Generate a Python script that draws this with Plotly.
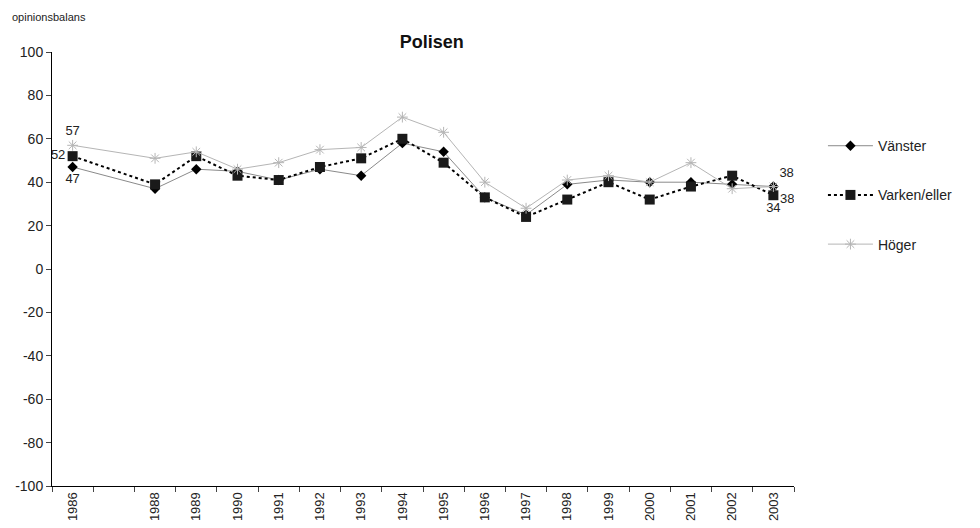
import plotly.graph_objects as go

# 1987 is an empty slot on the axis, no survey that year
years = ["1986", "1987", "1988", "1989", "1990", "1991", "1992", "1993", "1994",
         "1995", "1996", "1997", "1998", "1999", "2000", "2001", "2002", "2003"]
tick_labels = [y if y != "1987" else "" for y in years]

y_ticks = [100, 80, 60, 40, 20, 0, -20, -40, -60, -80, -100]
y_tick_labels = [str(v) for v in y_ticks]  # plain hyphen, like the original

vanster = [47, None, 37, 46, 45, 41, 46, 43, 58, 54, 33, 25, 39, 41, 40, 40, 39, 38]
varken = [52, None, 39, 52, 43, 41, 47, 51, 60, 49, 33, 24, 32, 40, 32, 38, 43, 34]
hoger = [57, None, 51, 54, 46, 49, 55, 56, 70, 63, 40, 28, 41, 43, 40, 49, 37, 38]


def end_labels(values):
    labels = ["" for _ in values]
    labels[0] = str(values[0])
    labels[-1] = str(values[-1])
    return labels


def end_positions(first, last, n):
    pos = ["middle center"] * n
    pos[0] = first
    pos[-1] = last
    return pos


fig = go.Figure()
fig.add_trace(go.Scatter(
    x=years, y=vanster, name="Vänster", legendgroup="a",
    mode="lines+markers+text", connectgaps=True,
    line=dict(color="#8a8a8a", width=1),
    marker=dict(symbol="diamond", size=8, color="black"),
    text=end_labels(vanster),
    textposition=end_positions("bottom center", "top right", len(years)),
    textfont=dict(size=13, color="#222"),
))
fig.add_trace(go.Scatter(
    x=years, y=varken, name="Varken/eller", legendgroup="b",
    mode="lines+markers+text", connectgaps=True,
    line=dict(color="black", width=2, dash="dot"),
    marker=dict(symbol="square", size=10, color="#1a1a1a"),
    text=end_labels(varken),
    textposition=end_positions("middle left", "bottom center", len(years)),
    textfont=dict(size=13, color="#222"),
))
fig.add_trace(go.Scatter(
    x=years, y=hoger, name="Höger", legendgroup="c",
    mode="lines+markers+text", connectgaps=True,
    line=dict(color="#b5b5b5", width=1),
    marker=dict(symbol="asterisk-open", size=9, line=dict(color="#777", width=1)),
    text=end_labels(hoger),
    textposition=end_positions("top center", "bottom right", len(years)),
    textfont=dict(size=13, color="#222"),
))

fig.update_layout(
    width=972, height=520,
    margin=dict(l=44, r=186, t=44, b=42),
    paper_bgcolor="white", plot_bgcolor="white",
    font=dict(family="Liberation Sans, Arial, sans-serif", size=13, color="#222"),
    title=dict(text="<b>Polisen</b>", x=0.436, xanchor="center", y=0.935, yanchor="middle",
               font=dict(size=18, color="#111")),
    legend=dict(x=1.039, y=0.82, xanchor="left", yanchor="top", itemwidth=45,
                font=dict(size=14), tracegroupgap=28, bgcolor="rgba(0,0,0,0)"),
    showlegend=True,
)
fig.update_xaxes(
    type="category", categoryorder="array", categoryarray=years,
    tickmode="array", tickvals=years, ticktext=tick_labels,
    tickangle=-90, tickson="boundaries", ticks="outside", ticklen=5,
    tickfont=dict(size=13), automargin=False,
    showline=True, linecolor="black", linewidth=1, showgrid=False,
    range=[-0.5, 17.5],
)
fig.update_yaxes(
    range=[-100, 100], tickmode="array", tickvals=y_ticks, ticktext=y_tick_labels,
    ticks="outside", ticklen=5, tickfont=dict(size=14), automargin=False,
    showline=True, linecolor="black", linewidth=1, showgrid=False, zeroline=False,
)
fig.add_annotation(text="opinionsbalans", xref="paper", yref="paper", x=-0.0593, y=1.0,
                   xanchor="left", yanchor="middle", xshift=2, yshift=35, showarrow=False,
                   font=dict(size=11))

fig.write_html("out.html")
